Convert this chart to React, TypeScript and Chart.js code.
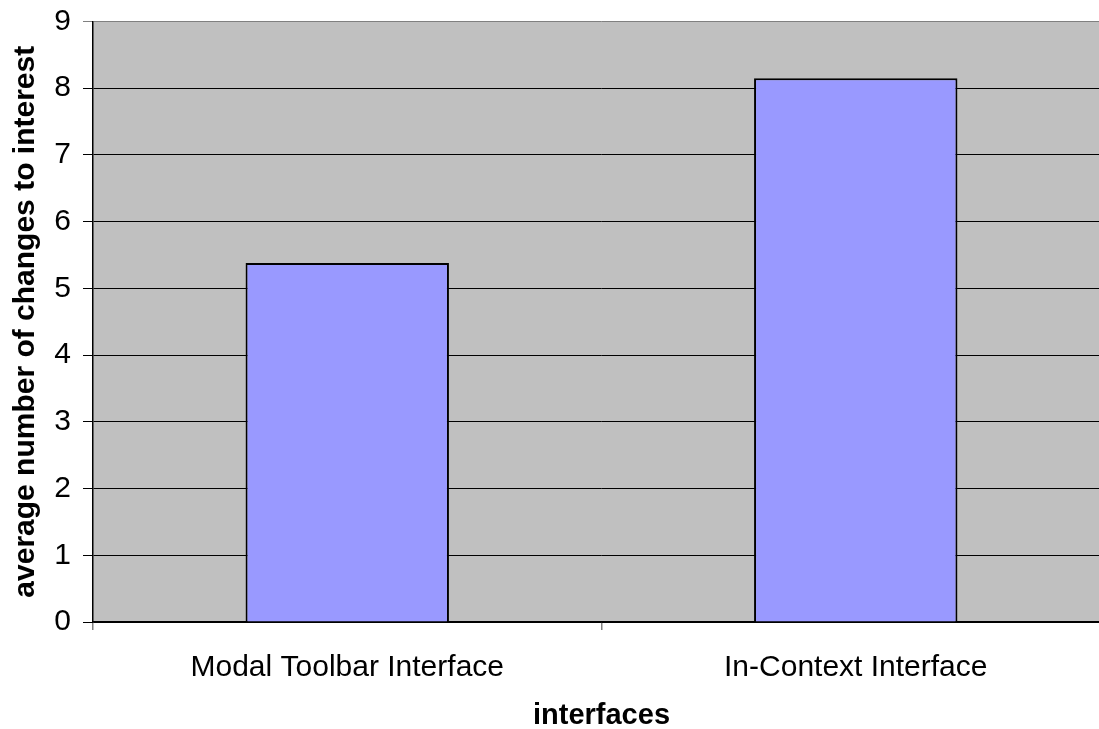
import React, { useEffect, useRef } from "react";
import { Chart, registerables } from "chart.js";

Chart.register(...registerables);

const categories = ["Modal Toolbar Interface", "In-Context Interface"];
const averageChanges = [5.38, 8.15];
const yTicks = [0, 1, 2, 3, 4, 5, 6, 7, 8, 9];
const yTitle = "average number of changes to interest";
const xTitle = "interfaces";

const FONT = "'Liberation Sans', Arial, sans-serif";

const plotBg = {
  id: "plotBg",
  beforeDraw(chart: any) {
    const { ctx, chartArea } = chart;
    ctx.save();
    ctx.fillStyle = "#C0C0C0";
    ctx.fillRect(chartArea.left, chartArea.top, chartArea.right - chartArea.left, chartArea.bottom - chartArea.top);
    ctx.restore();
  },
};

export default function App() {
  const ref = useRef<HTMLCanvasElement>(null);
  useEffect(() => {
    document.body.style.margin = "0";
    document.body.style.overflow = "hidden";
    const chart = new Chart(ref.current!, {
      type: "bar",
      data: {
        labels: categories,
        datasets: [
          {
            data: averageChanges,
            backgroundColor: "#9999FF",
            borderColor: "#000000",
            borderWidth: 2,
            barPercentage: 1,
            categoryPercentage: 0.4,
          },
        ],
      },
      options: {
        animation: false,
        responsive: false,
        layout: { padding: { top: 21.5, left: 0, right: 0, bottom: 0 } },
        plugins: { legend: { display: false }, tooltip: { enabled: false } },
        scales: {
          x: {
            offset: true,
            grid: {
              offset: true,
              drawOnChartArea: false,
              drawTicks: true,
              tickLength: 8,
              color: "#808080",
              lineWidth: 1.5,
            },
            border: { display: true, color: "#000000", width: 1.5 },
            ticks: {
              color: "#000000",
              font: { family: FONT, size: 30 },
              padding: 20,
            },
            title: {
              display: true,
              text: xTitle,
              color: "#000000",
              font: { family: FONT, size: 29, weight: "bold", lineHeight: 0.9 },
              padding: { top: 0, bottom: 0 },
            },
            afterFit(scale: any) {
              scale.height = 107;
              scale.paddingLeft = 0;
              scale.paddingRight = 0;
            },
          },
          y: {
            min: 0,
            max: 9,
            afterBuildTicks(scale: any) {
              scale.ticks = yTicks.map((v) => ({ value: v }));
            },
            grid: {
              drawTicks: true,
              tickLength: 10,
              color: (c: any) => (c.tick && c.tick.value === 9 ? "#808080" : "#000000"),
              lineWidth: 1,
            },
            border: { display: true, color: "#000000", width: 1.5 },
            ticks: {
              color: "#000000",
              font: { family: FONT, size: 30 },
              padding: 12,
            },
            title: {
              display: true,
              text: yTitle,
              color: "#000000",
              font: { family: FONT, size: 30, weight: "bold", lineHeight: 1.2 },
              padding: { top: 8, bottom: 0 },
            },
            afterFit(scale: any) {
              scale.width = 93;
              scale.paddingTop = 0;
              scale.paddingBottom = 0;
            },
          },
        },
      },
      plugins: [plotBg],
    });
    return () => chart.destroy();
  }, []);
  return (
    <div style={{ width: 1110, height: 729, overflow: "hidden" }}>
      <canvas ref={ref} width={1110} height={729} style={{ display: "block" }} />
    </div>
  );
}
